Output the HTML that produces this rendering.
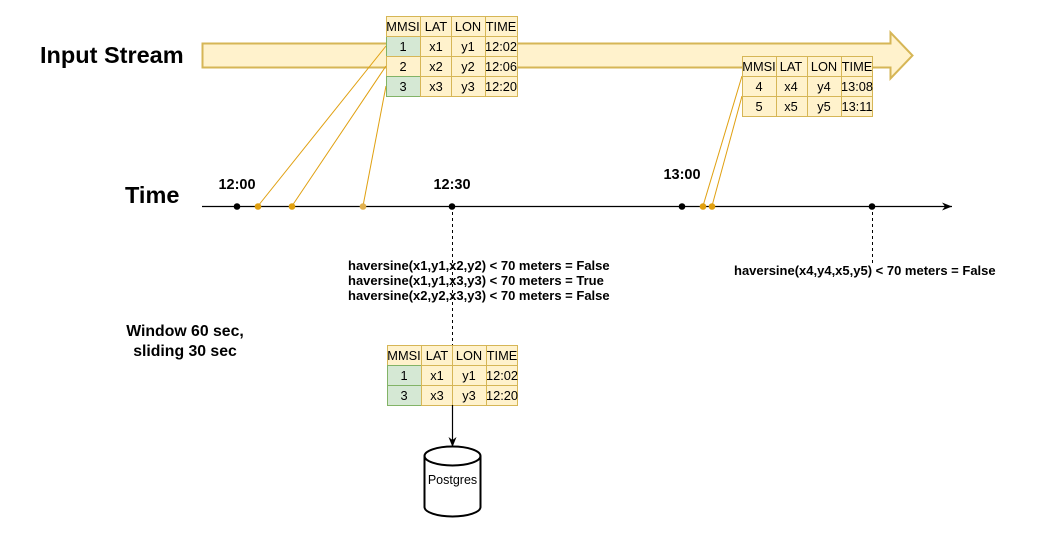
<!DOCTYPE html>
<html><head><meta charset="utf-8"><style>
html,body{margin:0;padding:0;background:#fff;}
svg{display:block;font-family:"Liberation Sans",Arial,sans-serif;}
</style></head><body>
<svg width="1043" height="538" viewBox="0 0 1043 538" xmlns="http://www.w3.org/2000/svg">
<defs>
<marker id="ah" markerWidth="12" markerHeight="12" refX="10" refY="6" orient="auto" markerUnits="userSpaceOnUse">
<path d="M0,2 L10,6 L0,10 L3,6 Z" fill="#000"/></marker>
</defs>
<path d="M202.5,43.5 L890.5,43.5 L890.5,32.5 L912.5,55.5 L890.5,78.5 L890.5,67.5 L202.5,67.5 Z" fill="#fff2cc" stroke="#d6b656" stroke-width="2"/>
<text x="40" y="63" font-size="23.5" font-weight="bold">Input Stream</text>
<text x="125" y="203" font-size="23.5" font-weight="bold">Time</text>
<text x="185" y="336" font-size="15.8" font-weight="bold" text-anchor="middle">Window 60 sec,</text>
<text x="185" y="356" font-size="15.8" font-weight="bold" text-anchor="middle">sliding 30 sec</text>
<g stroke="#e0a010" stroke-width="1">
<line x1="386" y1="46" x2="258" y2="206"/>
<line x1="386" y1="66" x2="292" y2="206"/>
<line x1="386" y1="86" x2="363" y2="206"/>
<line x1="742" y1="76" x2="703" y2="206"/>
<line x1="742" y1="96" x2="712" y2="206"/>
</g>
<line x1="202" y1="206.5" x2="952" y2="206.5" stroke="#000" stroke-width="1.2" marker-end="url(#ah)"/>
<g fill="#000"><circle cx="237" cy="206.5" r="3.3"/><circle cx="452" cy="206.5" r="3.3"/><circle cx="682" cy="206.5" r="3.3"/><circle cx="872" cy="206.5" r="3.3"/></g>
<g fill="#e0a010"><circle cx="258" cy="206.5" r="3.3"/><circle cx="292" cy="206.5" r="3.3"/><circle cx="363" cy="206.5" r="3.3" fill="#e0b050"/><circle cx="703" cy="206.5" r="3.3"/><circle cx="712" cy="206.5" r="3.3"/></g>
<g font-size="14.5" font-weight="bold" text-anchor="middle">
<text x="237" y="189">12:00</text><text x="452" y="189">12:30</text><text x="682" y="179">13:00</text>
</g>
<line x1="452.5" y1="206" x2="452.5" y2="345" stroke="#000" stroke-dasharray="3,3"/>
<line x1="872.5" y1="206" x2="872.5" y2="265" stroke="#000" stroke-dasharray="3,3"/>
<g font-size="13" font-weight="bold">
<text x="348" y="270">haversine(x1,y1,x2,y2) &lt; 70 meters = False</text>
<text x="348" y="285">haversine(x1,y1,x3,y3) &lt; 70 meters = True</text>
<text x="348" y="300">haversine(x2,y2,x3,y3) &lt; 70 meters = False</text>
<text x="734" y="275">haversine(x4,y4,x5,y5) &lt; 70 meters = False</text>
</g>
<g font-size="12.8" text-anchor="middle">
<rect x="386.5" y="16.5" width="131" height="80" fill="#fff2cc" stroke="#d6b656"/>
<rect x="386.5" y="36.5" width="34" height="20" fill="#d5e8d4" stroke="#82b366"/>
<rect x="386.5" y="56.5" width="34" height="20" fill="#fff2cc" stroke="#d6b656"/>
<rect x="386.5" y="76.5" width="34" height="20" fill="#d5e8d4" stroke="#82b366"/>
<g stroke="#d6b656"><line x1="420.5" y1="16" x2="420.5" y2="97"/><line x1="451.5" y1="16" x2="451.5" y2="97"/><line x1="485.5" y1="16" x2="485.5" y2="97"/>
<line x1="386" y1="36.5" x2="518" y2="36.5"/><line x1="420" y1="56.5" x2="518" y2="56.5"/><line x1="420" y1="76.5" x2="518" y2="76.5"/></g>
<text x="403" y="31">MMSI</text><text x="436" y="31">LAT</text><text x="468" y="31">LON</text><text x="501" y="31">TIME</text>
<text x="403" y="51">1</text><text x="436" y="51">x1</text><text x="468" y="51">y1</text><text x="501" y="51">12:02</text>
<text x="403" y="71">2</text><text x="436" y="71">x2</text><text x="468" y="71">y2</text><text x="501" y="71">12:06</text>
<text x="403" y="91">3</text><text x="436" y="91">x3</text><text x="468" y="91">y3</text><text x="501" y="91">12:20</text>
</g>
<g font-size="12.8" text-anchor="middle">
<rect x="742.5" y="56.5" width="130" height="60" fill="#fff2cc" stroke="#d6b656"/>
<g stroke="#d6b656"><line x1="776.5" y1="56" x2="776.5" y2="117"/><line x1="807.5" y1="56" x2="807.5" y2="117"/><line x1="841.5" y1="56" x2="841.5" y2="117"/>
<line x1="742" y1="76.5" x2="873" y2="76.5"/><line x1="742" y1="96.5" x2="873" y2="96.5"/></g>
<text x="759" y="71">MMSI</text><text x="791" y="71">LAT</text><text x="824" y="71">LON</text><text x="857" y="71">TIME</text>
<text x="759" y="91">4</text><text x="791" y="91">x4</text><text x="824" y="91">y4</text><text x="857" y="91">13:08</text>
<text x="759" y="111">5</text><text x="791" y="111">x5</text><text x="824" y="111">y5</text><text x="857" y="111">13:11</text>
</g>
<g font-size="12.8" text-anchor="middle">
<rect x="387.5" y="345.5" width="130" height="60" fill="#fff2cc" stroke="#d6b656"/>
<rect x="387.5" y="365.5" width="34" height="20" fill="#d5e8d4" stroke="#82b366"/>
<rect x="387.5" y="385.5" width="34" height="20" fill="#d5e8d4" stroke="#82b366"/>
<g stroke="#d6b656"><line x1="421.5" y1="345" x2="421.5" y2="406"/><line x1="452.5" y1="345" x2="452.5" y2="406"/><line x1="486.5" y1="345" x2="486.5" y2="406"/>
<line x1="421" y1="365.5" x2="518" y2="365.5"/><line x1="421" y1="385.5" x2="518" y2="385.5"/><line x1="387" y1="345.5" x2="518" y2="345.5"/></g>
<text x="404" y="360">MMSI</text><text x="437" y="360">LAT</text><text x="469" y="360">LON</text><text x="502" y="360">TIME</text>
<text x="404" y="380">1</text><text x="437" y="380">x1</text><text x="469" y="380">y1</text><text x="502" y="380">12:02</text>
<text x="404" y="400">3</text><text x="437" y="400">x3</text><text x="469" y="400">y3</text><text x="502" y="400">12:20</text>
</g>
<line x1="452.5" y1="405" x2="452.5" y2="447" stroke="#000" stroke-width="1.2" marker-end="url(#ah)"/>
<path d="M424.5,456 A28,9.5 0 0 1 480.5,456 L480.5,507 A28,9.5 0 0 1 424.5,507 Z" fill="#fff" stroke="#000" stroke-width="2"/>
<path d="M424.5,456 A28,9.5 0 0 0 480.5,456" fill="none" stroke="#000" stroke-width="2"/>
<text x="452.5" y="484" font-size="12.5" text-anchor="middle">Postgres</text>
</svg>
</body></html>
